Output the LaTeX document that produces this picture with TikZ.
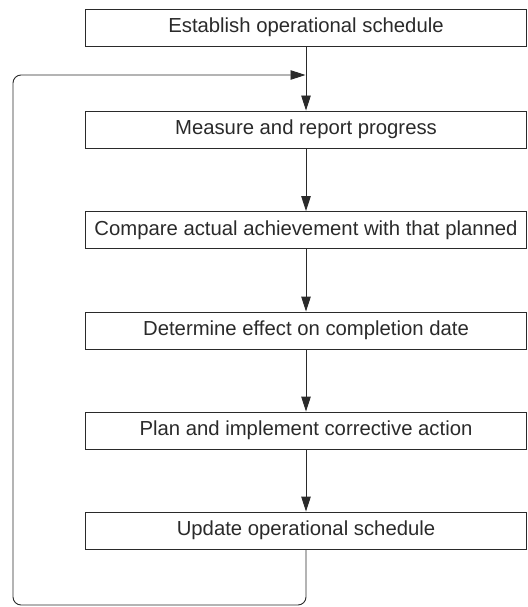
\documentclass[tikz,border=0pt]{standalone}
\usepackage{fontspec}
\setmainfont{Liberation Sans}
\usetikzlibrary{arrows.meta}
\definecolor{inkgray}{HTML}{2A2A2A}
\tikzset{
  stagebox/.style={draw=inkgray, line width=0.9pt, minimum width=441pt, minimum height=37pt, inner sep=2pt, text=inkgray, font=\fontsize{20.3}{24}\selectfont},
  flow/.style={draw=inkgray, line width=0.9pt, -{Triangle[length=15pt,width=9.5pt]}}
}
\begin{document}
\begin{tikzpicture}[x=1pt,y=-1pt]
\useasboundingbox (0,0) rectangle (527,607);
\node[stagebox] (establish) at (306,27.5) {Establish operational schedule};
\node[stagebox] (measure) at (306,129.5) {Measure and report progress};
\node[stagebox] (compare) at (306,230) {Compare actual achievement with that planned};
\node[stagebox] (determine) at (306,330.5) {Determine effect on completion date};
\node[stagebox] (plan) at (306,430.5) {Plan and implement corrective action};
\node[stagebox] (update) at (306,530.5) {Update operational schedule};
\coordinate (join) at (305.5,75);
\coordinate (loopcorner) at (13,605);
\draw[flow] (establish) -- (measure);
\draw[flow] (measure) -- (compare);
\draw[flow] (compare) -- (determine);
\draw[flow] (determine) -- (plan);
\draw[flow] (plan) -- (update);
% feedback loop back to the top
\draw[flow, rounded corners=8pt] (update.south) |- (loopcorner) |- (join);
\end{tikzpicture}
\end{document}
